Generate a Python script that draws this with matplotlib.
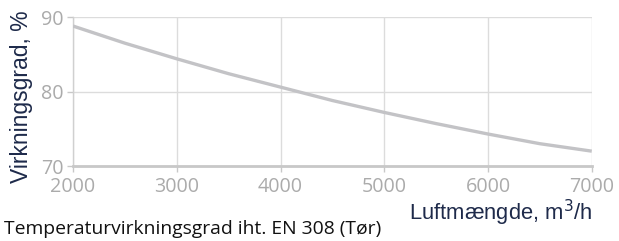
import matplotlib
matplotlib.use("Agg")
from matplotlib import pyplot as plt

# airflow (m3/h) vs. temperature efficiency (%)
airflow = [2000, 2500, 3000, 3500, 4000, 4500, 5000, 5500, 6000, 6500, 7000]
efficiency = [88.8, 86.5, 84.4, 82.4, 80.6, 78.8, 77.2, 75.7, 74.3, 73.0, 72.0]

x_ticks = [2000, 3000, 4000, 5000, 6000, 7000]
y_ticks = [70, 80, 90]

fig = plt.figure(figsize=(6.19, 2.41), dpi=100)
ax = fig.add_axes([0.118, 0.311, 0.838, 0.618])

ax.plot(airflow, efficiency, color="#c3c3c6", lw=2.4, solid_capstyle="butt", zorder=3)

ax.set_xlim(2000, 7000)
ax.set_ylim(70, 90)
ax.set_xticks(x_ticks)
ax.set_yticks(y_ticks)
ax.grid(True, color="#dcdcdc", lw=1.0, zorder=0)
ax.set_axisbelow(True)

for side in ["top", "right"]:
    ax.spines[side].set_visible(False)
ax.spines["left"].set_color("#d0d0d0")
ax.spines["left"].set_linewidth(1.0)
ax.spines["bottom"].set_color("#c8c8c8")
ax.spines["bottom"].set_linewidth(2.0)

ax.tick_params(axis="both", colors="#c8c8c8", length=4, width=1.0,
               labelcolor="#ababab", labelsize=14.2)
for lab in ax.get_xticklabels() + ax.get_yticklabels():
    lab.set_family("Open Sans")
ax.tick_params(axis="x", pad=4)
ax.tick_params(axis="y", pad=3)

# axis titles placed as figure text
fig.text(0.034, 0.60, "Virkningsgrad, %", rotation=90, ha="center", va="center",
         fontsize=16.5, color="#1e2a4a", family="Liberation Sans")
fig.text(0.958, 0.118, "Luftmængde, m$^3$/h", ha="right", va="center",
         fontsize=15.8, color="#1e2a4a", family="Liberation Sans")
fig.text(0.006, 0.048, "Temperaturvirkningsgrad iht. EN 308 (Tør)", ha="left",
         va="center", fontsize=13.9, color="#111111", family="Open Sans")

fig.savefig("out.png", dpi=100)
